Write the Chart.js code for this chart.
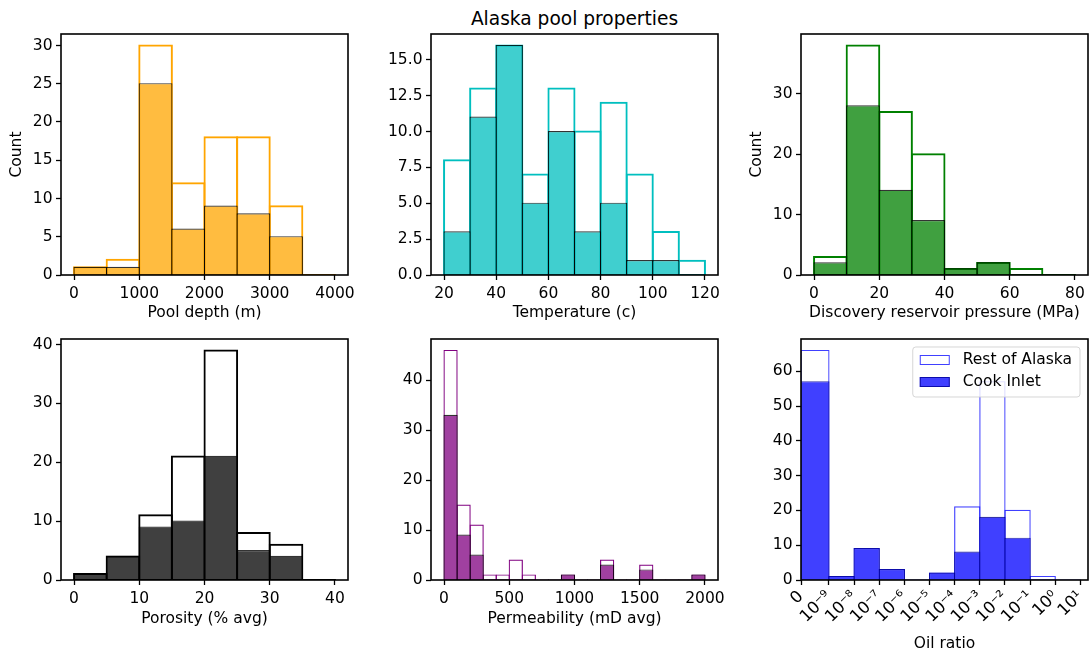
<!DOCTYPE html>
<html>
<head>
<meta charset="utf-8">
<script src="https://cdn.jsdelivr.net/npm/chart.js@4.4.1/dist/chart.umd.min.js"></script>
<style>
html, body { margin: 0; padding: 0; background: #fff; overflow: hidden; }
body { width: 1091px; height: 653px; position: relative; font-family: "DejaVu Sans", sans-serif; }
canvas { position: absolute; }
#title { position: absolute; left: 431px; width: 287px; top: 8px; text-align: center;
	font-size: 18.6px; line-height: 22px; color: #000; white-space: nowrap; }
</style>
</head>
<body>
<div id="title">Alaska pool properties</div>
<canvas id="c1"></canvas>
<canvas id="c2"></canvas>
<canvas id="c3"></canvas>
<canvas id="c4"></canvas>
<canvas id="c5"></canvas>
<canvas id="c6"></canvas>
<script>
//==========
// Data (bin edges + counts per bin)

const depthEdges = [0, 500, 1000, 1500, 2000, 2500, 3000, 3500, 4000];
const depthRest = [1, 2, 30, 12, 18, 18, 9, 0];
const depthCook = [1, 1, 25, 6, 9, 8, 5, 0];
const depthXTicks = ["0", "1000", "2000", "3000", "4000"];
const depthYTicks = ["0", "5", "10", "15", "20", "25", "30"];

const tempEdges = [20, 30, 40, 50, 60, 70, 80, 90, 100, 110, 120];
const tempRest = [8, 13, 16, 7, 13, 10, 12, 7, 3, 1];
const tempCook = [3, 11, 16, 5, 10, 3, 5, 1, 1, 0];
const tempXTicks = ["20", "40", "60", "80", "100", "120"];
const tempYTicks = ["0.0", "2.5", "5.0", "7.5", "10.0", "12.5", "15.0"];

const pressEdges = [0, 10, 20, 30, 40, 50, 60, 70, 80];
const pressRest = [3, 38, 27, 20, 1, 2, 1, 0];
const pressCook = [2, 28, 14, 9, 1, 2, 0, 0];
const pressXTicks = ["0", "20", "40", "60", "80"];
const pressYTicks = ["0", "10", "20", "30"];

const poroEdges = [0, 5, 10, 15, 20, 25, 30, 35, 40];
const poroRest = [1, 4, 11, 21, 39, 8, 6, 0];
const poroCook = [1, 4, 9, 10, 21, 5, 4, 0];
const poroXTicks = ["0", "10", "20", "30", "40"];
const poroYTicks = ["0", "10", "20", "30", "40"];

const permEdges = [0, 100, 200, 300, 400, 500, 600, 700, 800, 900, 1000,
	1100, 1200, 1300, 1400, 1500, 1600, 1700, 1800, 1900, 2000];
const permRest = [46, 15, 11, 1, 1, 4, 1, 0, 0, 1, 0, 0, 4, 0, 0, 3, 0, 0, 0, 1];
const permCook = [33, 9, 5, 0, 0, 0, 0, 0, 0, 1, 0, 0, 3, 0, 0, 2, 0, 0, 0, 1];
const permXTicks = ["0", "500", "1000", "1500", "2000"];
const permYTicks = ["0", "10", "20", "30", "40"];

const oilEdges = [0, 1e-9, 1e-8, 1e-7, 1e-6, 1e-5, 1e-4, 1e-3, 1e-2, 1e-1, 1e0, 1e1];
const oilRest = [66, 1, 9, 3, 0, 2, 21, 57, 20, 1, 0];
const oilCook = [57, 1, 9, 3, 0, 2, 8, 18, 12, 0, 0];
const oilXTickValues = [0, 1e-9, 1e-8, 1e-7, 1e-6, 1e-5, 1e-4, 1e-3, 1e-2, 1e-1, 1e0, 1e1];
const oilXTicks = ["0", "10⁻⁹", "10⁻⁸", "10⁻⁷", "10⁻⁶", "10⁻⁵", "10⁻⁴", "10⁻³", "10⁻²", "10⁻¹", "10⁰", "10¹"];
const oilYTicks = ["0", "10", "20", "30", "40", "50", "60"];

const seriesNames = ["Rest of Alaska", "Cook Inlet"];

//==========
// Symlog (linthresh 1e-9, linscale 1) -> linear position

const LINTHRESH = 1e-9;
function symlog(v){
	if(v <= LINTHRESH) return (v / LINTHRESH) / 0.9;
	return 1 / 0.9 + Math.log10(v / LINTHRESH);
}

//==========
// Plugins

const FONT = {family: "'DejaVu Sans', sans-serif", size: 15.5};
const OIL_FONT = {family: "'DejaVu Sans', sans-serif", size: 16.5};
const TEXT = "#000";

// bars span their bin edges exactly; stroke centred on the edge like matplotlib
const binPlugin = {
	id: "bins",
	afterDatasetsUpdate(chart){
		const xs = chart.scales.x, ys = chart.scales.y;
		chart.data.datasets.forEach((ds, i)=>{
			const meta = chart.getDatasetMeta(i);
			const bw = ds.borderWidth;
			const base = ys.getPixelForValue(0);
			meta.data.forEach((el, j)=>{
				const lo = xs.getPixelForValue(ds.edges[j]);
				const hi = xs.getPixelForValue(ds.edges[j + 1]);
				el.x = (lo + hi) / 2;
				el.width = hi - lo + bw;
				el.y = ys.getPixelForValue(ds.data[j].y) - bw / 2;
				el.base = base + bw / 2;
				el.height = el.base - el.y;
			});
		});
	}
};

const framePlugin = {
	id: "frame",
	afterDraw(chart){
		const {ctx, chartArea: a} = chart;
		ctx.save();
		ctx.strokeStyle = "#000";
		ctx.lineWidth = 1.6;
		ctx.strokeRect(a.left, a.top, a.right - a.left, a.bottom - a.top);
		ctx.restore();
	}
};

const legendPlugin = {
	id: "boxLegend",
	afterDraw(chart, args, opts){
		if(!opts.show) return;
		const {ctx, chartArea: a} = chart;
		const dss = chart.data.datasets;
		ctx.save();
		ctx.font = FONT.size + "px " + FONT.family;
		let tw = 0;
		dss.forEach(ds=>{ tw = Math.max(tw, ctx.measureText(ds.label).width); });
		const w = 50 + tw + 8, h = 50;
		const x = a.right - 8 - w, y = a.top + 8;
		const r = 3;
		ctx.beginPath();
		ctx.moveTo(x + r, y);
		ctx.arcTo(x + w, y, x + w, y + h, r);
		ctx.arcTo(x + w, y + h, x, y + h, r);
		ctx.arcTo(x, y + h, x, y, r);
		ctx.arcTo(x, y, x + w, y, r);
		ctx.closePath();
		ctx.fillStyle = "rgba(255,255,255,0.8)";
		ctx.fill();
		ctx.strokeStyle = "rgba(204,204,204,0.8)";
		ctx.lineWidth = 1;
		ctx.stroke();
		dss.forEach((ds, k)=>{
			const cy = y + 13 + k * 22;
			ctx.fillStyle = ds.backgroundColor;
			ctx.fillRect(x + 7, cy - 5, 30, 10);
			ctx.strokeStyle = ds.borderColor;
			ctx.lineWidth = 1;
			ctx.strokeRect(x + 7.5, cy - 4.5, 29, 9);
			ctx.fillStyle = TEXT;
			ctx.textBaseline = "middle";
			ctx.textAlign = "left";
			ctx.fillText(ds.label, x + 50, cy);
		});
		ctx.restore();
	}
};

//==========
// Histogram panel

const COLS = [61, 431, 801];
const ROWS = [34, 339];
const AREA_W = 287, AREA_H = 241;
const Y_AXIS_W = 61, PAD = 30;

function tickGrid(){
	return {display: true, drawOnChartArea: false, drawTicks: true, tickLength: 5,
		tickWidth: 1.3, tickColor: "#000", offset: false};
}

function showHist(id, col, row, p){
	const hx = p.xAxisH;
	const cv = document.getElementById(id);
	cv.width = Y_AXIS_W + AREA_W + PAD;
	cv.height = PAD + AREA_H + hx;
	cv.style.left = (COLS[col] - Y_AXIS_W) + "px";
	cv.style.top = (ROWS[row] - PAD) + "px";

	const tf = p.xform || (v=>v);
	const edges = p.edges.map(tf);
	const toXY = arr=>arr.map((c, i)=>({x: (edges[i] + edges[i + 1]) / 2, y: c}));
	const xVals = p.xTickValues ? p.xTickValues.map(tf) : p.xTicks.map(Number);
	const yVals = p.yTicks.map(Number);

	new Chart(cv.getContext("2d"), {
		type: "bar",
		data: {
			datasets: [{
				label: seriesNames[0],
				data: toXY(p.rest),
				edges: edges,
				backgroundColor: "rgba(255,255,255,0)",
				borderColor: p.line,
				borderWidth: p.lineW,
				borderSkipped: false,
				grouped: false,
				order: 2
			}, {
				label: seriesNames[1],
				data: toXY(p.cook),
				edges: edges,
				backgroundColor: p.fill,
				borderColor: p.edge,
				borderWidth: 1.2,
				borderSkipped: false,
				grouped: false,
				order: 1
			}]
		},
		options: {
			responsive: false,
			animation: false,
			devicePixelRatio: 1,
			layout: {padding: {left: 0, top: PAD, right: PAD, bottom: 0}},
			scales: {
				x: {
					type: "linear", min: tf(p.xMin), max: tf(p.xMax), bounds: "data", offset: false,
					grid: tickGrid(),
					border: {display: false},
					afterBuildTicks: s=>{ s.ticks = xVals.map(v=>({value: v})); },
					ticks: {autoSkip: false, padding: p.rot ? 2 : 4.3, color: TEXT, font: p.rot ? OIL_FONT : FONT,
						minRotation: p.rot || 0, maxRotation: p.rot || 0,
						callback: (v, i)=>p.xTicks[i]},
					title: {display: true, text: p.xTitle, color: TEXT, font: FONT, padding: {top: 0, bottom: 0}},
					afterFit: s=>{ s.height = hx; s.paddingLeft = 0; s.paddingRight = 0; }
				},
				y: {
					type: "linear", min: 0, max: p.yMax, bounds: "data",
					grid: tickGrid(),
					border: {display: false},
					afterBuildTicks: s=>{ s.ticks = yVals.map(v=>({value: v})); },
					ticks: {padding: 3.5, color: TEXT, font: FONT, callback: (v, i)=>p.yTicks[i]},
					title: {display: !!p.yTitle, text: p.yTitle || "", color: TEXT, font: FONT, padding: {top: 7.5, bottom: 0}},
					afterFit: s=>{ s.width = Y_AXIS_W; s.paddingTop = 0; s.paddingBottom = 0; }
				}
			},
			plugins: {
				legend: {display: false},
				tooltip: {enabled: false},
				boxLegend: {show: !!p.legend}
			}
		},
		plugins: [binPlugin, framePlugin, legendPlugin]
	});
}

showHist("c1", 0, 0, {
	edges: depthEdges, rest: depthRest, cook: depthCook,
	line: "#FFA500", lineW: 2, fill: "rgba(255,165,0,0.75)", edge: "rgba(0,0,0,0.8)",
	xMin: -200, xMax: 4200, yMax: 31.5, xTicks: depthXTicks, yTicks: depthYTicks,
	xTitle: "Pool depth (m)", yTitle: "Count", xAxisH: 47
});
showHist("c2", 1, 0, {
	edges: tempEdges, rest: tempRest, cook: tempCook,
	line: "#00BFBF", lineW: 2, fill: "rgba(0,191,191,0.75)", edge: "rgba(0,0,0,0.8)",
	xMin: 15, xMax: 125, yMax: 16.8, xTicks: tempXTicks, yTicks: tempYTicks,
	xTitle: "Temperature (c)", xAxisH: 47
});
showHist("c3", 2, 0, {
	edges: pressEdges, rest: pressRest, cook: pressCook,
	line: "#008000", lineW: 2, fill: "rgba(0,128,0,0.75)", edge: "rgba(0,0,0,0.8)",
	xMin: -4, xMax: 84, yMax: 39.9, xTicks: pressXTicks, yTicks: pressYTicks,
	xTitle: "Discovery reservoir pressure (MPa)", yTitle: "Count", xAxisH: 47
});
showHist("c4", 0, 1, {
	edges: poroEdges, rest: poroRest, cook: poroCook,
	line: "#000000", lineW: 2, fill: "rgba(0,0,0,0.75)", edge: "rgba(0,0,0,0.8)",
	xMin: -2, xMax: 42, yMax: 40.95, xTicks: poroXTicks, yTicks: poroYTicks,
	xTitle: "Porosity (% avg)", xAxisH: 48
});
showHist("c5", 1, 1, {
	edges: permEdges, rest: permRest, cook: permCook,
	line: "#800080", lineW: 1.2, fill: "rgba(128,0,128,0.75)", edge: "rgba(0,0,0,0.8)",
	xMin: -100, xMax: 2100, yMax: 48.3, xTicks: permXTicks, yTicks: permYTicks,
	xTitle: "Permeability (mD avg)", xAxisH: 48
});
showHist("c6", 2, 1, {
	edges: oilEdges, rest: oilRest, cook: oilCook, xform: symlog,
	line: "rgba(0,0,255,0.75)", lineW: 1.2, fill: "rgba(0,0,255,0.75)", edge: "rgba(0,0,150,0.8)",
	xMin: 0, xMax: 20, yMax: 69.3, xTickValues: oilXTickValues, xTicks: oilXTicks, yTicks: oilYTicks,
	xTitle: "Oil ratio", rot: 45, legend: true, xAxisH: 73
});
</script>
</body>
</html>
